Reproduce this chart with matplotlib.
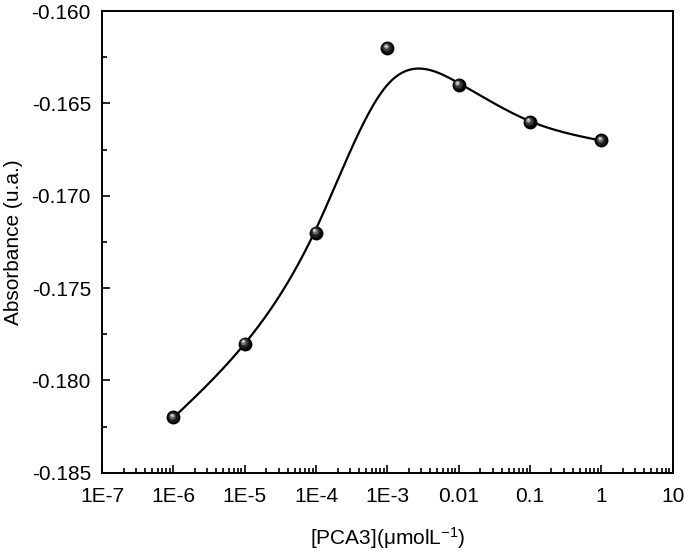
import numpy as np
import matplotlib
matplotlib.use("Agg")
import matplotlib.pyplot as plt
from matplotlib.ticker import FixedLocator, MultipleLocator, LogLocator, NullFormatter
import matplotlib.transforms as mtransforms

# Data
concentration = [1e-6, 1e-5, 1e-4, 1e-3, 1e-2, 1e-1, 1.0]
absorbance = [-0.182, -0.178, -0.172, -0.162, -0.164, -0.166, -0.167]
# smoothing-spline weights for the drawn curve (the 1E-3 point lies off the curve)
curve_weights = [1, 1, 1, 0.15, 1, 1, 1]
xtick_vals = [1e-7, 1e-6, 1e-5, 1e-4, 1e-3, 1e-2, 1e-1, 1, 10]
xtick_labels = ["1E-7", "1E-6", "1E-5", "1E-4", "1E-3", "0.01", "0.1", "1", "10"]
ytick_vals = [-0.185, -0.180, -0.175, -0.170, -0.165, -0.160]
ytick_labels = ["-0.185", "-0.180", "-0.175", "-0.170", "-0.165", "-0.160"]

plt.rcParams['font.family'] = ['Liberation Sans', 'DejaVu Sans']
plt.rcParams['mathtext.default'] = 'regular'


def smooth_spline(x, y, w, lam, xs):
    """Weighted cubic smoothing spline (Reinsch)."""
    x = np.asarray(x, float); y = np.asarray(y, float); w = np.asarray(w, float)
    n = len(x); h = np.diff(x)
    Q = np.zeros((n, n - 2)); R = np.zeros((n - 2, n - 2))
    for j in range(1, n - 1):
        Q[j - 1, j - 1] = 1 / h[j - 1]
        Q[j, j - 1] = -1 / h[j - 1] - 1 / h[j]
        Q[j + 1, j - 1] = 1 / h[j]
        R[j - 1, j - 1] = (h[j - 1] + h[j]) / 3
        if j < n - 2:
            R[j - 1, j] = R[j, j - 1] = h[j] / 6
    Winv = np.diag(1 / w)
    gam = np.linalg.solve(R + lam * Q.T @ Winv @ Q, Q.T @ y)
    g = y - lam * Winv @ Q @ gam
    M = np.concatenate([[0], gam, [0]])
    idx = np.clip(np.searchsorted(x, xs) - 1, 0, n - 2)
    x0, x1 = x[idx], x[idx + 1]; hh = x1 - x0; t0 = x1 - xs; t1 = xs - x0
    return (M[idx] * t0 ** 3 / (6 * hh) + M[idx + 1] * t1 ** 3 / (6 * hh)
            + (g[idx] / hh - M[idx] * hh / 6) * t0 + (g[idx + 1] / hh - M[idx + 1] * hh / 6) * t1)


fig = plt.figure(figsize=(6.85, 5.53), dpi=100)
ax = fig.add_axes([0.149, 0.145, 0.833, 0.835])

lx = np.log10(concentration)
xs = np.linspace(lx[0], lx[-1], 500)
ys = smooth_spline(lx, absorbance, curve_weights, 0.01, xs)
ax.plot(10 ** xs, ys, color='black', lw=1.6, zorder=2)

# sphere-like markers
layers = [(10.0, '#000000', 0, 0), (7.5, '#1a1a1a', -0.4, 0.4), (5.5, '#3a3a3a', -0.8, 0.9),
          (3.8, '#707070', -1.1, 1.3), (2.4, '#b0b0b0', -1.3, 1.6), (1.2, '#e8e8e8', -1.4, 1.8)]
for ms, col, dx, dy in layers:
    tr = mtransforms.offset_copy(ax.transData, fig=fig, x=dx, y=dy, units='points')
    ax.plot(concentration, absorbance, 'o', ms=ms, color=col, mec='none', transform=tr, zorder=3)

ax.set_xscale('log')
ax.set_xlim(1e-7, 10)
ax.set_ylim(-0.185, -0.160)
ax.xaxis.set_major_locator(FixedLocator(xtick_vals))
ax.set_xticklabels(xtick_labels)
ax.xaxis.set_minor_locator(LogLocator(base=10, subs=np.arange(2, 10), numticks=20))
ax.xaxis.set_minor_formatter(NullFormatter())
ax.set_yticks(ytick_vals)
ax.set_yticklabels(ytick_labels)
ax.yaxis.set_minor_locator(MultipleLocator(0.0025))

ax.tick_params(which='both', direction='in', top=False, right=False, labelsize=15, width=1.2)
ax.tick_params(which='major', length=6)
ax.tick_params(axis='y', which='major', pad=8)
ax.tick_params(axis='x', which='major', pad=10)
ax.tick_params(which='minor', length=3.5)
for s in ax.spines.values():
    s.set_linewidth(1.4)

ax.set_xlabel('[PCA3](\u03bcmolL$^{-1}$)', fontsize=15, labelpad=14)
ax.set_ylabel('Absorbance (u.a.)', fontsize=15, labelpad=6)

fig.savefig('out.png', dpi=100)
